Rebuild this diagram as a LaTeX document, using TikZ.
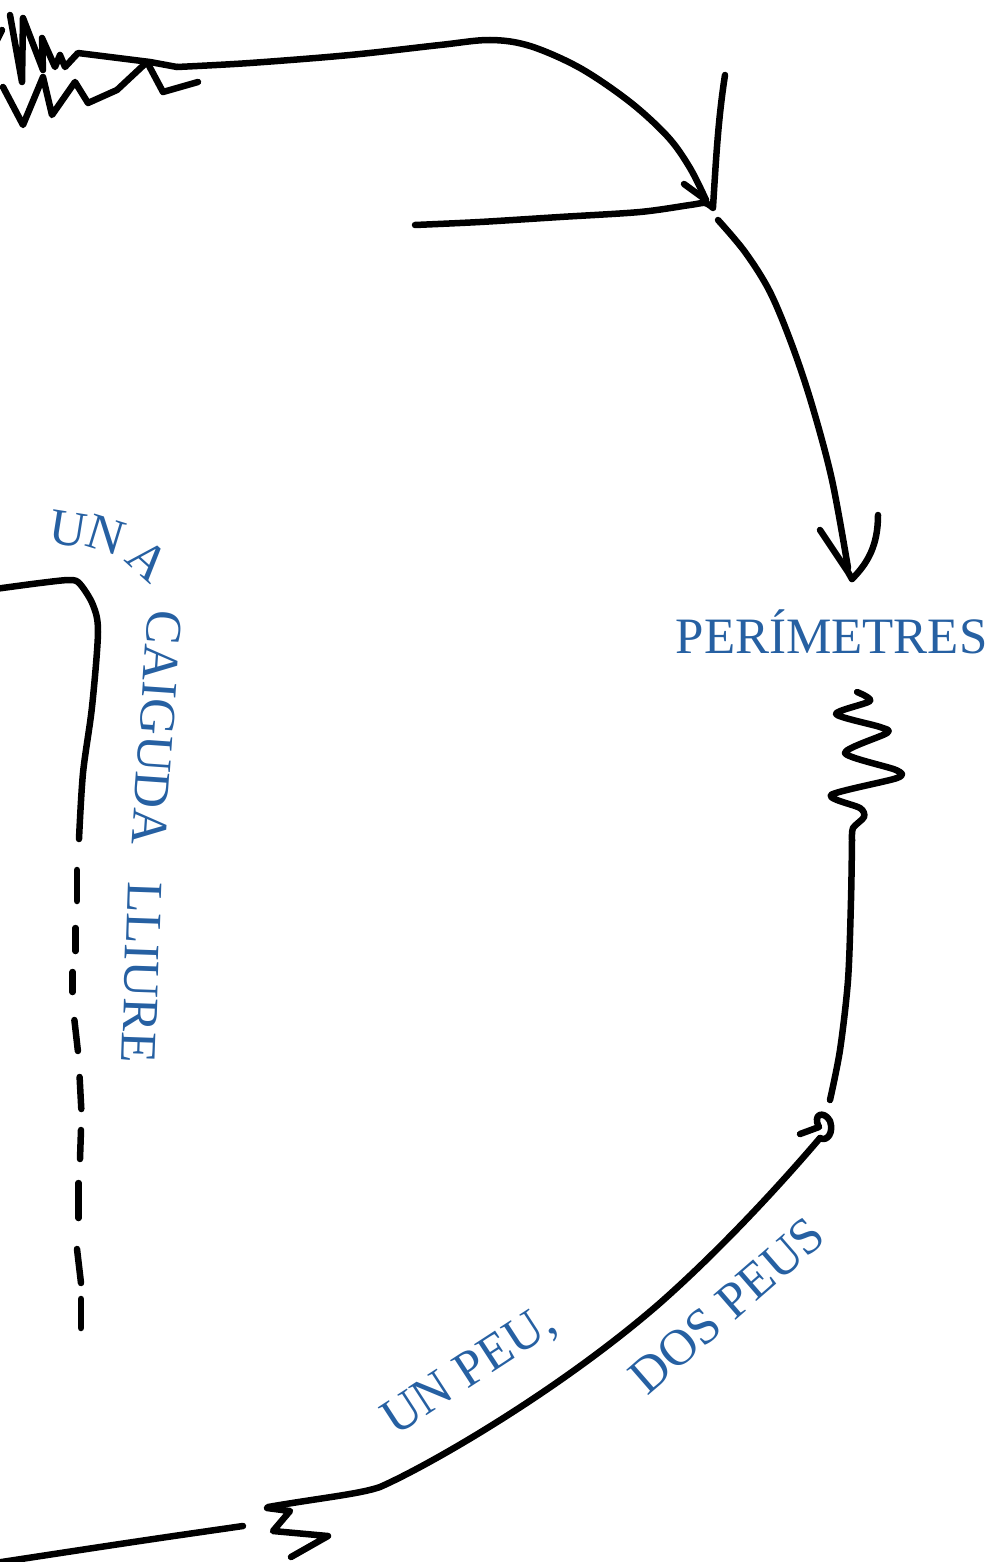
\documentclass[tikz,border=0pt]{standalone}
\usepackage{fontspec}
\setmainfont{Liberation Serif}
\definecolor{inkblue}{RGB}{38,96,162}
\tikzset{
  pen/.style={line width=6.5pt, line cap=round, line join=round, black},
  lbl/.style={text=inkblue, font=\fontsize{51}{60}\selectfont, inner sep=0pt},
  dashseg/.style={pen}
}
\begin{document}
\begin{tikzpicture}[x=1pt,y=-1pt]
\useasboundingbox (0,0) rectangle (993,1562);
\clip (0,0) rectangle (993,1562);

% ---- top-left scribble and top arc with arrow
\coordinate (topstart) at (10,15);
\coordinate (toptip) at (706,200);
\draw[pen] (-3,40) -- (2,30);
\draw[pen] (topstart) -- (22,82) -- (23,18) -- (43,70) -- (42,38) -- (55,67) -- (60,55) -- (65,67) -- (78,53) -- (150,62) -- (177,67);
\draw[pen] plot[smooth, tension=0.55] coordinates {(177,67) (250,63) (350,55) (440,45) (490,40) (530,46) (580,68) (630,102) (668,137) (690,168) (706,200)};
\draw[pen] (3,87) -- (23,125) -- (43,77) -- (52,115) -- (75,82) -- (88,103) -- (117,90) -- (147,62) -- (163,92) -- (198,82);
\draw[pen] (684,184) -- (toptip);

% ---- junction lines
\coordinate (junction) at (713,207);
\draw[pen] (725,75) .. controls (718,120) and (716,160) .. (junction);
\draw[pen] plot[smooth, tension=0.5] coordinates {(415,225) (480,222) (560,217) (640,212) (690,205) (705,203) (713,208)};

% ---- curve down to PERÍMETRES
\coordinate (downtip) at (852,579);
\draw[pen] plot[smooth, tension=0.55] coordinates {(718,220) (745,252) (770,292) (792,345) (812,405) (832,480) (848,568)};
\draw[pen] (820,530) -- (848,572) -- (downtip);
\draw[pen] (878,515) .. controls (878,545) and (868,563) .. (downtip);

\node[lbl, anchor=base] (perim) at (831.5,653) {PERÍMETRES};

% ---- squiggle and line down
\draw[pen] plot[smooth, tension=0.45] coordinates {(857,692) (870,701) (836,714) (880,727) (887,733) (845,753) (896,770) (897,778) (831,795) (860,808) (864,817) (853,828) (852,840)};
\draw[pen] plot[smooth, tension=0.5] coordinates {(852,840) (851,900) (848,980) (840,1050) (830,1100)};

% ---- lower arc with arrow
\coordinate (lowtip) at (820,1138);
\draw[pen] (268,1507) .. controls (320,1498) and (360,1494) .. (380,1487)
  .. controls (430,1465) and (560,1390) .. (660,1303)
  .. controls (720,1250) and (780,1185) .. (lowtip);
\draw[pen] (800,1134) -- (819,1127) .. controls (812,1114) and (824,1110) .. (830,1121) .. controls (834,1133) and (827,1142) .. (lowtip);

% ---- bottom-left line and squiggle
\draw[pen] plot[smooth, tension=0.5] coordinates {(-5,1563) (100,1547) (167,1537) (243,1526)};
\draw[pen] (267,1508) -- (290,1511) -- (273,1531) -- (328,1536) -- (291,1557);

% ---- left bracket and dashes
\draw[pen] plot[smooth, tension=0.5] coordinates {(-5,589) (40,583) (70,580) (80,584) (93,605) (98,632) (92,707) (83,773) (79,839)};
\draw[dashseg] (77,870) -- (77,901);
\draw[dashseg] (75.5,928) -- (75.5,951);
\draw[dashseg] (72.7,972) -- (72.7,992);
\draw[dashseg] (74.4,1020) -- (77.9,1051);
\draw[dashseg] (79.6,1077) -- (81.3,1109);
\draw[dashseg] (81,1130) -- (80,1159);
\draw[dashseg] (78.6,1183) -- (78.6,1218);
\draw[dashseg] (77,1249) -- (81,1283);
\draw[dashseg] (81,1299) -- (81,1328);

% ---- curved label UNA CAIGUDA LLIURE
\node[lbl, rotate=-9] (u1) at (68,529) {U};
\node[lbl, rotate=-17] (n1) at (106,535) {N};
\node[lbl, rotate=-42] (a1) at (148,560) {A};
\node[lbl, anchor=base, rotate=-94] (caiguda) at (140,727) {CAIGUDA};
\node[lbl, anchor=base, rotate=-92] (lliure) at (125,972) {LLIURE};

% ---- lower labels
\node[lbl, anchor=base, rotate=33] (unpeu) at (477,1383) {UN PEU,};
\node[lbl, anchor=base, rotate=41] (dospeus) at (738,1318) {DOS PEUS};
\end{tikzpicture}
\end{document}
